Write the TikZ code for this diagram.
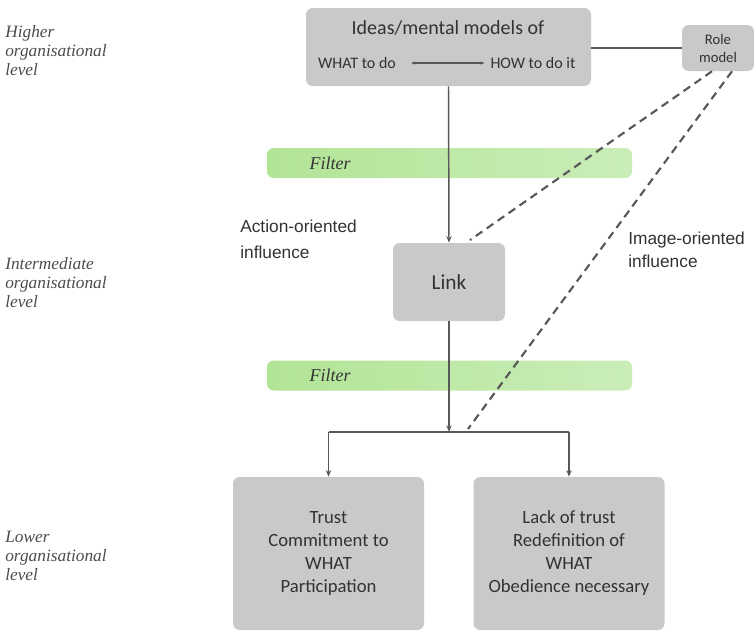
\documentclass[tikz,border=0pt]{standalone}
\usepackage{fontspec}
\setmainfont{Carlito}
\newfontfamily\levelfont{Liberation Serif}
\newfontfamily\arialfont{Liberation Sans}
\usepackage{tikz}
\usetikzlibrary{arrows.meta,positioning}
\definecolor{boxgray}{RGB}{201,201,201}
\definecolor{linegray}{RGB}{88,88,88}
\definecolor{textgray}{RGB}{50,50,50}
\definecolor{filtleft}{RGB}{178,228,150}
\definecolor{filtright}{RGB}{202,237,184}

\tikzset{
  box/.style={fill=boxgray, draw=none, rounded corners=5pt, align=center, inner sep=0pt, text=textgray},
  filterbar/.style={left color=filtleft, right color=filtright, draw=none, rounded corners=5pt,
    minimum width=273.75pt, minimum height=22.5pt, inner sep=0pt},
  filtertext/.style={font=\levelfont\itshape\fontsize{13.5}{15}\selectfont, text=black!80},
  levellabel/.style={anchor=west, align=left, inner sep=0pt, text=black!70,
    font=\levelfont\itshape\fontsize{13}{14.3}\selectfont},
  influence/.style={anchor=west, align=left, inner sep=0pt, text=textgray},
  conn/.style={draw=linegray, line width=1.1pt},
  flow/.style={conn, -{Stealth[length=5pt,width=4pt]}},
  infdash/.style={draw=linegray, line width=1.6pt, dash pattern=on 6pt off 4pt},
}

\begin{document}
\begin{tikzpicture}[x=0.75pt, y=-0.75pt]
    \useasboundingbox (0,0) rectangle (754,632);

    % filters
    \node[filterbar] (filterA) at (449.5,163) {};
    \node[filtertext] at (330,163) {Filter};
    \node[filterbar] (filterB) at (449.5,375.5) {};
    \node[filtertext] at (330,375.5) {Filter};

    % levels
    \node[levellabel] (higher) at (5,51) {Higher\\organisational\\level};
    \node[levellabel] (inter) at (5,283) {Intermediate\\organisational\\level};
    \node[levellabel] (lower) at (5,556) {Lower\\organisational\\level};

    % boxes
    \node[box, minimum width=213.75pt, minimum height=58.5pt] (ideas) at (448.5,47) {};
    \node[text=textgray, font=\fontsize{15}{17}\selectfont] (ideastitle) at (448,28) {Ideas/mental models of};
    \node[text=textgray, font=\fontsize{12}{14}\selectfont] (what) at (357,63) {WHAT to do};
    \node[text=textgray, font=\fontsize{12}{14}\selectfont] (how) at (533,63) {HOW to do it};
    \node[box, minimum width=54pt, minimum height=34.5pt, font=\fontsize{11}{13.5}\selectfont] (role) at (718,48) {Role\\model};
    \node[box, minimum width=84pt, minimum height=58.5pt, font=\fontsize{16}{18}\selectfont] (link) at (449,282) {Link};
    \node[box, minimum width=143.25pt, minimum height=114.75pt, font=\fontsize{14}{17.25}\selectfont] (trust) at (328.5,553.5)
        {Trust\\Commitment to\\WHAT\\Participation};
    \node[box, minimum width=143.25pt, minimum height=114.75pt, font=\fontsize{14}{17.25}\selectfont] (lack) at (569,553.5)
        {Lack of trust\\Redefinition of\\WHAT\\Obedience necessary};

    % influences
    \node[influence, font=\arialfont\fontsize{13}{19.5}\selectfont] (action) at (240,239) {Action-oriented\\influence};
    \node[influence, font=\arialfont\fontsize{13}{17.5}\selectfont] (image) at (628,250) {Image-oriented\\influence};

    % connectors
    \draw[draw=linegray, line width=0.8pt, {Stealth[length=3pt,width=2.5pt]}-{Stealth[length=3pt,width=2.5pt]},
        shorten <=8pt, shorten >=1pt] (what) -- (how);
    \draw[conn] (role.west -| ideas.east) -- (role.west);
    \draw[flow] (ideas.south) -- (link.north);
    \coordinate (split) at (449,432);
    \draw[flow] (link.south) -- (split);
    \draw[conn] (split -| trust.north) -- (split -| lack.north);
    \draw[flow] (split -| trust.north) -- (trust.north);
    \draw[flow] (split -| lack.north) -- (lack.north);

    \draw[infdash] ([xshift=-4.5pt]role.south) -- ([xshift=15.75pt,yshift=2pt]link.north);
    \draw[infdash] ([xshift=10.5pt]role.south) -- ([xshift=14.25pt,yshift=2.25pt]split);
\end{tikzpicture}
\end{document}
